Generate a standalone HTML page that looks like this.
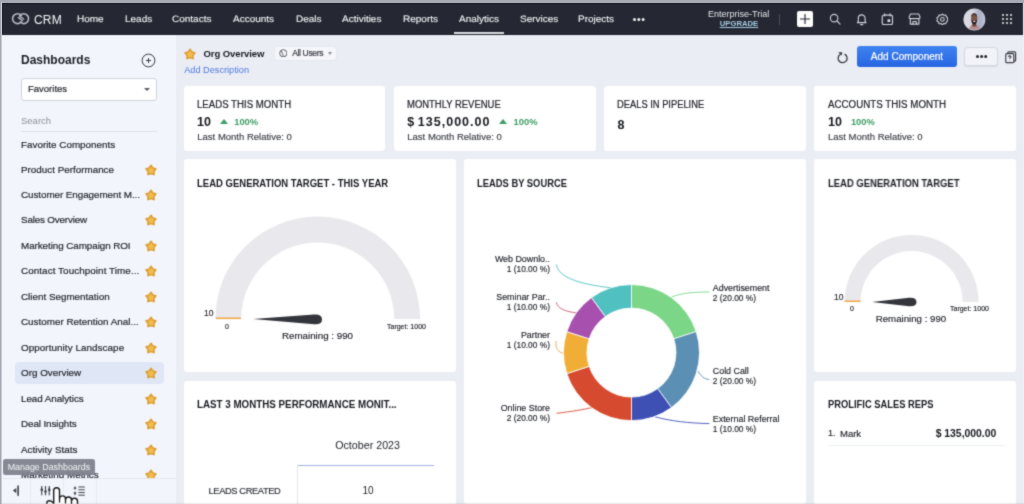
<!DOCTYPE html>
<html>
<head>
<meta charset="utf-8">
<title>CRM Dashboard</title>
<style>
*{box-sizing:border-box;margin:0;padding:0}
html,body{width:1024px;height:504px;overflow:hidden}
body{font-family:"Liberation Sans",sans-serif;background:#a6a9b2;position:relative;color:#1f2129}
.abs{position:absolute}
#app{position:absolute;left:2px;top:3px;width:1022px;height:501px;background:#ebedf5;overflow:hidden}
/* all children of #app positioned in page coords via wrapper offset */
#pg{position:absolute;left:-2px;top:-3px;width:1024px;height:504px;will-change:transform;filter:url(#soft)}
#nav{position:absolute;left:-2px;top:-2px;width:1024.6px;height:37px;background:#252832;border-top:6px solid #1b1e28;border-bottom:1px solid #1d202a}
.nv{position:absolute;top:13.1px;font-size:9.3px;line-height:12px;color:#f1f2f5;white-space:nowrap;transform:scaleX(1.075) rotate(0.03deg);transform-origin:0 50%;-webkit-text-stroke:0.12px #f1f2f5}
#side{position:absolute;left:2px;top:35px;width:174px;height:469px;background:#f3f5fc}
.li{position:absolute;left:21px;font-size:9.85px;-webkit-text-stroke:0.2px #262830;line-height:12px;color:#262830;white-space:nowrap}
.star{position:absolute;left:143.6px;width:14px;height:14px}
.card{position:absolute;background:#fff;border-radius:3px}
.ct{position:absolute;transform-origin:0 0;font-size:10px;line-height:12px;font-weight:bold;color:#191b22;white-space:nowrap}
.st{position:absolute;transform-origin:0 0;font-size:10px;line-height:12px;color:#23252c;white-space:nowrap;-webkit-text-stroke:0.22px #23252c}
.sv{position:absolute;font-size:12.5px;line-height:15px;color:#15171d;white-space:nowrap;font-weight:bold}
.sg{position:absolute;font-size:9.4px;line-height:11px;color:#3f9c66;white-space:nowrap;font-weight:bold}
.sl{position:absolute;font-size:9.5px;line-height:11px;color:#3b3d45;white-space:nowrap;-webkit-text-stroke:0.15px #3b3d45}
.lb{position:absolute;font-size:8.5px;line-height:10px;color:#22242b;white-space:nowrap;-webkit-text-stroke:0.15px #22242b}
</style>
</head>
<body>
<div id="app"><div id="pg">

<!-- NAV -->
<div id="nav"></div>
<svg class="abs" style="left:10px;top:10px" width="22" height="18" viewBox="10 10 22 18" fill="none" stroke="#b9bcc5" stroke-width="1.600" stroke-linecap="round">
  <path d="M21.300 22 A5 4.900 0 1 1 21.300 15.400"/>
  <path d="M20.200 15.400 A4.800 4.900 0 1 1 20.200 22"/>
  <path d="M18.300 17.600 L22.600 20.700 M19.500 16.100 L23.600 19" stroke-width="1.300"/>
</svg>
<div class="abs" style="left:34px;top:12.6px;font-size:12px;line-height:14px;color:#f4f5f8;letter-spacing:0.2px">CRM</div>
<div class="nv" style="left:77px">Home</div>
<div class="nv" style="left:125px">Leads</div>
<div class="nv" style="left:172px">Contacts</div>
<div class="nv" style="left:233px">Accounts</div>
<div class="nv" style="left:296px">Deals</div>
<div class="nv" style="left:342px">Activities</div>
<div class="nv" style="left:403px">Reports</div>
<div class="nv" style="left:459px">Analytics</div>
<div class="nv" style="left:520px">Services</div>
<div class="nv" style="left:578px">Projects</div>
<div class="abs" style="left:453.5px;top:32.3px;width:50.5px;height:1.9px;background:#dcdee3"></div>
<div class="abs" style="left:632.8px;top:18.2px;width:2.8px;height:2.8px;border-radius:2px;background:#f1f2f5;box-shadow:4.3px 0 0 #f1f2f5,8.6px 0 0 #f1f2f5"></div>
<div class="abs" style="left:698.7px;top:8.8px;width:80px;text-align:center;font-size:9px;line-height:10px;color:#e4e5ea">Enterprise-Trial</div>
<div class="abs" style="left:699px;top:18.7px;width:80px;text-align:center;font-size:8px;line-height:10px;color:#a4cce2;font-weight:bold;text-decoration:underline;text-decoration-thickness:0.8px;text-underline-offset:1.2px;transform:scaleX(0.96)">UPGRADE</div>
<div class="abs" style="left:779px;top:14px;width:1px;height:11px;background:#4a4d58"></div>
<!-- plus -->
<div class="abs" style="left:797px;top:11px;width:16px;height:16px;background:#fff;border-radius:2px"></div>
<svg class="abs" style="left:797px;top:11px" width="16" height="16" viewBox="0 0 16 16" stroke="#23262f" stroke-width="1.15" fill="none"><path d="M3 8 H13 M8 3 V13"/></svg>
<!-- search -->
<svg class="abs" style="left:829px;top:13px" width="12.4" height="12.4" viewBox="0 0 13 13" fill="none" stroke="#cfd1d8" stroke-width="1.2" stroke-linecap="round"><circle cx="5.4" cy="5.4" r="3.9"/><path d="M8.4 8.4 L11.6 11.6"/></svg>
<!-- bell -->
<svg class="abs" style="left:856.2px;top:12.8px" width="11.4" height="13.3" viewBox="0 0 12 14" fill="none" stroke="#cfd1d8" stroke-width="1.2" stroke-linecap="round" stroke-linejoin="round"><path d="M2.4 9.2 V5.6 A3.6 3.6 0 0 1 9.6 5.6 V9.2 L10.6 10.2 H1.4 Z"/><path d="M4.8 12.2 H7.2"/></svg>
<!-- calendar -->
<svg class="abs" style="left:881.3px;top:12.7px" width="12.8" height="12.8" viewBox="0 0 13 13" fill="none" stroke="#cfd1d8" stroke-width="1.2" stroke-linejoin="round"><rect x="1.3" y="2.2" width="10.4" height="9.6" rx="1.6"/><path d="M3.8 0.8 V3 M9.2 0.8 V3" stroke-linecap="round"/><rect x="6.6" y="6.4" width="2.8" height="2.8" fill="#d9dbe1" stroke="none"/></svg>
<!-- store -->
<svg class="abs" style="left:908.2px;top:12.8px" width="13.2" height="12.2" viewBox="0 0 14 13" fill="none" stroke="#cfd1d8" stroke-width="1.2" stroke-linejoin="round" stroke-linecap="round"><path d="M2.6 1 H11.4 L12.8 4.4 Q12.8 6 11 6 H3 Q1.2 6 1.2 4.4 Z"/><path d="M2.4 6.2 V11.8 H11.6 V6.2"/><path d="M5.2 11.6 V9 H8.8 V11.6"/></svg>
<!-- gear -->
<svg class="abs" style="left:935.6px;top:12.6px" width="12.8" height="12.8" viewBox="0 0 14 14" fill="none" stroke="#cfd1d8" stroke-width="1.2" stroke-linejoin="round"><path d="M7 1.2 L8.6 2.5 L10.6 2.2 L11.3 4.1 L13 5.2 L12.3 7 L13 8.8 L11.3 9.9 L10.6 11.8 L8.6 11.5 L7 12.8 L5.4 11.5 L3.4 11.8 L2.7 9.9 L1 8.8 L1.7 7 L1 5.2 L2.7 4.1 L3.4 2.2 L5.4 2.5 Z"/><circle cx="7" cy="7" r="2"/></svg>
<!-- avatar -->
<svg class="abs" style="left:963px;top:7.500px" width="23" height="23" viewBox="963 7.500 23 23">
  <defs><clipPath id="avc"><circle cx="974.400" cy="19" r="10.600"/></clipPath>
  <linearGradient id="avg" x1="0" x2="1" y1="0" y2="0"><stop offset="0" stop-color="#dcdde4"/><stop offset="0.450" stop-color="#d3d6e0"/><stop offset="0.700" stop-color="#a9b0c6"/><stop offset="1" stop-color="#c3c7d6"/></linearGradient></defs>
  <circle cx="974.400" cy="19" r="10.900" fill="#d9dbe4"/>
  <g clip-path="url(#avc)">
    <rect x="963" y="7" width="23" height="24" fill="url(#avg)"/>
    <path d="M968.500 31 Q969 25.500 972.500 24.600 L976.300 24.600 Q980 25.500 980.500 31 Z" fill="#b58e93"/>
    <path d="M972.300 22 L976.200 22 L976.400 26 L972.200 26 Z" fill="#6b4739"/>
    <ellipse cx="974.200" cy="17.800" rx="3.100" ry="4.600" fill="#7b5546"/>
    <path d="M971.200 18.800 Q971.300 23.800 974.200 24 Q977.100 23.800 977.200 18.800 Q976.300 20.700 974.200 20.700 Q972.100 20.700 971.200 18.800 Z" fill="#2c201c"/>
    <rect x="973.100" y="20.600" width="2.300" height="0.900" rx="0.400" fill="#e9e4e0"/>
    <path d="M971.200 16.500 Q971.300 12.800 974.200 12.800 Q977.100 12.800 977.200 16.500 Q976 14.300 974.200 14.300 Q972.400 14.300 971.200 16.500 Z" fill="#3a2a25"/>
  </g>
</svg>
<!-- grid -->
<div class="abs" style="left:1002px;top:14px;width:2.4px;height:2.4px;border-radius:1px;background:#f0f1f4;box-shadow:4px 0 0 #f0f1f4,8px 0 0 #f0f1f4,0 4px 0 #f0f1f4,4px 4px 0 #f0f1f4,8px 4px 0 #f0f1f4,0 8px 0 #f0f1f4,4px 8px 0 #f0f1f4,8px 8px 0 #f0f1f4"></div>

<!-- SIDEBAR -->
<div id="side"></div>
<div class="abs" style="left:21px;top:53px;font-size:12px;line-height:14px;font-weight:bold;color:#1a1c24">Dashboards</div>
<svg class="abs" style="left:141px;top:53px" width="15" height="15" viewBox="0 0 15 15" fill="none" stroke="#3b3d46" stroke-width="1"><circle cx="7.5" cy="7.5" r="6.4"/><path d="M5 7.500 H10 M7.500 5 V10"/></svg>
<div class="abs" style="left:21px;top:77.6px;width:136.2px;height:23px;background:#fff;border:1px solid #d0d3dc;border-radius:3px"></div>
<div class="abs" style="left:28px;top:83.4px;font-size:9.5px;line-height:11px;color:#24262e;-webkit-text-stroke:0.2px #24262e">Favorites</div>
<div class="abs" style="left:144px;top:88px;width:0;height:0;border-left:3px solid transparent;border-right:3px solid transparent;border-top:3.5px solid #555862"></div>
<div class="abs" style="left:21px;top:115px;font-size:9.5px;line-height:11px;color:#8d909b">Search</div>
<div class="abs" style="left:21px;top:130.5px;width:136px;height:1px;background:#dfe1ea"></div>

<div class="abs" style="left:15px;top:362.1px;width:149px;height:22.2px;background:#dfe6f5;border-radius:4px"></div>
<div class="li" style="top:139.2px">Favorite Components</div>
<div class="li" style="top:163.5px">Product Performance</div>
<div class="li" style="top:189.0px;letter-spacing:-0.06px">Customer Engagement M...</div>
<div class="li" style="top:214.4px;letter-spacing:-0.18px">Sales Overview</div>
<div class="li" style="top:239.9px;letter-spacing:-0.07px">Marketing Campaign ROI</div>
<div class="li" style="top:265.3px;letter-spacing:0.076px">Contact Touchpoint Time...</div>
<div class="li" style="top:290.8px">Client Segmentation</div>
<div class="li" style="top:316.3px">Customer Retention Anal...</div>
<div class="li" style="top:341.7px;letter-spacing:0.067px">Opportunity Landscape</div>
<div class="li" style="top:367.2px">Org Overview</div>
<div class="li" style="top:392.6px;letter-spacing:-0.06px">Lead Analytics</div>
<div class="li" style="top:418.1px;letter-spacing:-0.1px">Deal Insights</div>
<div class="li" style="top:443.6px">Activity Stats</div>
<div class="li" style="top:469.0px">Marketing Metrics</div>
<svg width="0" height="0" style="position:absolute"><defs>
<filter id="soft" x="0" y="0" width="100%" height="100%" color-interpolation-filters="sRGB"><feConvolveMatrix order="3" kernelMatrix="0.03 0.1 0.03 0.1 0.48 0.1 0.03 0.1 0.03" divisor="1" edgeMode="duplicate" preserveAlpha="false"/></filter>
<symbol id="star" viewBox="0 0 14 14"><path d="M7.00 2.40 L8.70 5.05 L11.76 5.85 L9.76 8.30 L9.94 11.45 L7.00 10.30 L4.06 11.45 L4.24 8.30 L2.24 5.85 L5.30 5.05 Z" fill="#ecab3c" stroke="#dd9f37" stroke-width="1.900" stroke-linejoin="round"/><path d="M7.00 4.90 L8.00 6.12 L9.47 6.70 L8.62 8.03 L8.53 9.60 L7.00 9.20 L5.47 9.60 L5.38 8.03 L4.53 6.70 L6.00 6.12 Z" fill="#f2bc4c" stroke="#f2bc4c" stroke-width="1.200" stroke-linejoin="round"/></symbol>
</defs></svg>
<svg class="star" style="top:162.5px"><use href="#star"/></svg>
<svg class="star" style="top:188.0px"><use href="#star"/></svg>
<svg class="star" style="top:213.4px"><use href="#star"/></svg>
<svg class="star" style="top:238.9px"><use href="#star"/></svg>
<svg class="star" style="top:264.3px"><use href="#star"/></svg>
<svg class="star" style="top:289.8px"><use href="#star"/></svg>
<svg class="star" style="top:315.3px"><use href="#star"/></svg>
<svg class="star" style="top:340.7px"><use href="#star"/></svg>
<svg class="star" style="top:366.2px"><use href="#star"/></svg>
<svg class="star" style="top:391.6px"><use href="#star"/></svg>
<svg class="star" style="top:417.1px"><use href="#star"/></svg>
<svg class="star" style="top:442.6px"><use href="#star"/></svg>
<svg class="star" style="top:468.0px"><use href="#star"/></svg>

<!-- sidebar footer -->
<div class="abs" style="left:2px;top:478.3px;width:174px;height:26px;background:#f3f5fc;border-top:1px solid #e4e6ef"></div>
<div class="abs" style="left:30px;top:479px;width:1px;height:25px;background:#e9ebf3"></div>
<div class="abs" style="left:62.5px;top:479px;width:1px;height:25px;background:#e9ebf3"></div>
<div class="abs" style="left:96px;top:479px;width:1px;height:25px;background:#e9ebf3"></div>
<svg class="abs" style="left:0;top:480px" width="110" height="24" viewBox="0 480 110 24">
  <g fill="#3f414a" stroke="none">
    <path d="M12.9 490.600 L16.300 488 L16.300 493.200 Z"/>
    <rect x="17.300" y="485.500" width="1.600" height="10.300"/>
    <rect x="41.200" y="486" width="1.100" height="9.300"/><rect x="44.950" y="486" width="1.100" height="9.300"/><rect x="48.700" y="486" width="1.100" height="9.300"/>
    <path d="M40.300 489.800 L41.750 487.300 L43.200 489.800 Z"/><rect x="40.600" y="489.600" width="2.300" height="1.400"/>
    <path d="M44.050 491.600 L45.500 494.100 L46.950 491.600 Z"/><rect x="44.350" y="490.400" width="2.300" height="1.400"/>
    <path d="M47.800 489.800 L49.250 487.300 L50.700 489.800 Z"/><rect x="48.100" y="489.600" width="2.300" height="1.400"/>
    <path d="M73.400 488.800 L75 486 L76.600 488.800 Z"/><rect x="74.600" y="488.300" width="0.800" height="1.500"/>
    <path d="M73.400 492.600 L75 495.400 L76.600 492.600 Z"/><rect x="74.600" y="491.500" width="0.800" height="1.500"/>
    <rect x="78.400" y="486.500" width="6.400" height="1"/><rect x="78.400" y="489.300" width="6.400" height="1"/><rect x="78.400" y="492.100" width="6.400" height="1"/><rect x="78.400" y="494.700" width="6.400" height="1"/>
  </g>
  <path d="M47 506 L47 501.500 C49.500 500 51.800 501 53.700 503.300 V490.600 A2.900 2.900 0 0 1 59.500 490.600 V498.900 A3 3 0 0 1 65.500 498.900 V500 A3 3 0 0 1 71.500 500 V501.200 A3 3 0 0 1 77.500 501.200 V506 Z" fill="#fff" stroke="#16171a" stroke-width="1.400" stroke-linejoin="round"/>
  <path d="M59.500 498.900 V502.500 M65.500 500 V503.500 M71.500 501.200 V504" fill="none" stroke="#16171a" stroke-width="1.300"/>
</svg>
<!-- tooltip -->
<div class="abs" style="left:2.6px;top:458.8px;width:92.4px;height:16.4px;background:rgba(128,131,141,0.95);border-radius:2.5px"></div>
<div class="abs" style="left:7.7px;top:462.3px;font-size:8.9px;line-height:10px;color:#f3f4f7;white-space:nowrap">Manage Dashboards</div>

<!-- MAIN HEADER -->
<svg class="abs" style="left:183.2px;top:46.7px;width:14px;height:14px"><use href="#star"/></svg>
<div class="abs" style="left:203.5px;top:47.7px;font-size:9.5px;line-height:11px;font-weight:bold;letter-spacing:-0.08px;color:#16181f;white-space:nowrap">Org Overview</div>
<div class="abs" style="left:275px;top:47px;width:61px;height:12.5px;background:#f5f6fa;border-radius:3px;box-shadow:0 0 0 0.6px #e2e4ec"></div>
<svg class="abs" style="left:278.8px;top:48.9px" width="8.6" height="8.6" viewBox="0 0 9 9" fill="none" stroke="#4a4d57" stroke-width="0.9"><circle cx="4.5" cy="4.5" r="3.8"/><path d="M2 2.2 Q4 3 3.4 4.6 Q4.6 5.4 4.2 8"/></svg>
<div class="abs" style="left:292.2px;top:48.2px;font-size:8.5px;line-height:10px;color:#3a3c45;letter-spacing:-0.35px;-webkit-text-stroke:0.2px #3a3c45;white-space:nowrap">All Users</div>
<div class="abs" style="left:327.5px;top:52px;width:0;height:0;border-left:2.5px solid transparent;border-right:2.5px solid transparent;border-top:3px solid #8a8d97"></div>
<div class="abs" style="left:184.2px;top:64.8px;font-size:9.2px;line-height:10px;color:#4f78dd;white-space:nowrap">Add Description</div>

<svg class="abs" style="left:834px;top:48px" width="18" height="18" viewBox="834 48 18 18" fill="none" stroke="#34363d" stroke-width="1.250" stroke-linecap="round"><path d="M845 54.400 A4.500 4.500 0 1 1 840.100 54.500"/><path d="M838.200 52.300 L842.300 52.300 L841.700 55.600 Z" fill="#34363d" stroke="none"/></svg>
<div class="abs" style="left:856.5px;top:45.5px;width:100.5px;height:21.5px;background:linear-gradient(#3f83f1,#2765e2);border-radius:3px"></div>
<div class="abs" style="left:857px;top:51.1px;width:100px;text-align:center;font-size:10px;line-height:11px;color:#fff;white-space:nowrap;-webkit-text-stroke:0.2px #fff">Add Component</div>
<div class="abs" style="left:964.4px;top:46.6px;width:34px;height:19.8px;background:#f2f3f9;border:1px solid #d4d7e1;border-radius:3.5px;box-shadow:0 1px 1.5px rgba(60,65,90,0.12)"></div>
<div class="abs" style="left:976.3px;top:55.4px;width:2.4px;height:2.4px;border-radius:2px;background:#22242b;box-shadow:4.1px 0 0 #22242b,8.2px 0 0 #22242b"></div>
<svg class="abs" style="left:1005.400px;top:51px" width="11.500" height="12.500" viewBox="0 0 11.500 12.500" fill="none" stroke="#3c3e47" stroke-width="1.200"><path d="M2.800 2.600 V1.800 Q2.800 0.900 3.700 0.900 H9.700 Q10.600 0.900 10.600 1.800 V9.200 Q10.600 10.100 9.700 10.100 H9"/><rect x="0.800" y="2.700" width="8" height="9" rx="1" fill="#f4f5fa"/><path d="M3.400 5.900 Q3.400 4.900 4.700 4.900 Q6 4.900 6 5.900 Q6 6.600 4.800 7.200 V7.900 M4.800 9 V9.600" stroke-width="1.100"/></svg>

<!-- STAT CARDS -->
<div class="card" style="left:184px;top:85.8px;width:201.2px;height:65.6px"></div>
<div class="card" style="left:394px;top:85.8px;width:201.6px;height:65.6px"></div>
<div class="card" style="left:604.4px;top:85.8px;width:201.6px;height:65.6px"></div>
<div class="card" style="left:814px;top:85.8px;width:202.2px;height:65.6px"></div>

<div class="st" style="left:197px;top:99.1px;transform:scaleX(0.9641)">LEADS THIS MONTH</div>
<div class="sv" style="left:197px;top:114.9px">10</div>
<div class="abs" style="left:220.3px;top:119.2px;width:0;height:0;border-left:4.2px solid transparent;border-right:4.2px solid transparent;border-bottom:5px solid #3f9c66"></div>
<div class="sg" style="left:234.2px;top:115.9px">100%</div>
<div class="sl" style="left:197.3px;top:131.3px">Last Month Relative: 0</div>

<div class="st" style="left:407.3px;top:99.1px;transform:scaleX(0.9455)">MONTHLY REVENUE</div>
<div class="sv" style="left:407.3px;top:114.9px;letter-spacing:1.02px;word-spacing:-2px">$ 135,000.00</div>
<div class="abs" style="left:499.2px;top:119.2px;width:0;height:0;border-left:4.2px solid transparent;border-right:4.2px solid transparent;border-bottom:5px solid #3f9c66"></div>
<div class="sg" style="left:513.6px;top:115.9px">100%</div>
<div class="sl" style="left:407.3px;top:131.3px">Last Month Relative: 0</div>

<div class="st" style="left:617.3px;top:99.1px;transform:scaleX(0.9336)">DEALS IN PIPELINE</div>
<div class="sv" style="left:617.5px;top:117.8px">8</div>

<div class="st" style="left:828px;top:99.1px;transform:scaleX(0.9760)">ACCOUNTS THIS MONTH</div>
<div class="sv" style="left:828px;top:114.9px">10</div>
<div class="sg" style="left:850.9px;top:115.9px">100%</div>
<div class="sl" style="left:828px;top:131.3px">Last Month Relative: 0</div>

<!-- ROW 2 CARDS -->
<div class="card" style="left:184px;top:159.2px;width:272.2px;height:212.5px"></div>
<div class="card" style="left:464.3px;top:159.2px;width:341.7px;height:345px"></div>
<div class="card" style="left:814px;top:159.2px;width:202.2px;height:212.5px"></div>
<div class="card" style="left:184px;top:381.2px;width:272.2px;height:124px"></div>
<div class="card" style="left:814px;top:381.2px;width:202.2px;height:124px"></div>

<div class="ct" style="left:197px;top:178.1px;transform:scaleX(0.9508)">LEAD GENERATION TARGET - THIS YEAR</div>
<div class="ct" style="left:477.2px;top:178.1px;transform:scaleX(0.9375)">LEADS BY SOURCE</div>
<div class="ct" style="left:828px;top:178.1px;transform:scaleX(0.9454)">LEAD GENERATION TARGET</div>
<div class="ct" style="left:197px;top:399.1px;transform:scaleX(0.9789)">LAST 3 MONTHS PERFORMANCE MONIT...</div>
<div class="ct" style="left:827.8px;top:398.9px;transform:scaleX(0.9353)">PROLIFIC SALES REPS</div>

<!-- gauge 1 -->
<svg class="abs" style="left:184px;top:159px" width="272" height="213" viewBox="184 159 272 213">
  <path d="M215.300 319 A102.400 102.400 0 0 1 420.100 319 L394.200 319 A76.500 76.500 0 0 0 241.200 319 Z" fill="#e9e9ed"/>
  <rect x="216" y="317.5" width="25" height="1.6" fill="#f0a648"/>
  <path d="M253 319 L314 314.5 Q322 314 322 319.5 Q322 325 314 324.2 Z" fill="#33353b"/>
</svg>
<div class="lb" style="left:204px;top:308px">10</div>
<div class="lb" style="left:225px;top:322px;font-size:7px">0</div>
<div class="lb" style="left:387px;top:322px;font-size:7px">Target: 1000</div>
<div class="lb" style="left:282px;top:330.1px;font-size:9.75px;line-height:11px">Remaining : 990</div>

<!-- gauge 2 -->
<svg class="abs" style="left:814px;top:159px" width="202" height="213" viewBox="814 159 202 213">
  <path d="M844.600 302 A67 67 0 0 1 978.600 302 L962.600 302 A51 51 0 0 0 860.600 302 Z" fill="#e9e9ed"/>
  <rect x="844.600" y="300.500" width="16" height="1.500" fill="#f0a648"/>
  <path d="M872 302 L909 297.700 Q916.500 297.200 916.500 302 Q916.500 306.800 909 306.300 Z" fill="#33353b"/>
</svg>
<div class="lb" style="left:834px;top:292px">10</div>
<div class="lb" style="left:850px;top:304px;font-size:7px">0</div>
<div class="lb" style="left:950px;top:304px;font-size:7px">Target: 1000</div>
<div class="lb" style="left:875.7px;top:313.3px;font-size:9.7px;line-height:11px">Remaining : 990</div>

<!-- donut -->
<svg class="abs" style="left:464px;top:159px" width="342" height="345" viewBox="464 159 342 345" id="donut">
<g fill="none" stroke-width="0.900">
<path d="M556.400 264.400 C558 277 578 284 611 287.800" stroke="#50c0c1"/>
<path d="M556.400 302.300 C557.500 308.500 565 311.500 577 313" stroke="#c25a6e"/>
<path d="M556.100 341 C555 348 558 352.500 564.500 353.600" stroke="#e3a24a"/>
<path d="M556.600 413.300 C572 411.500 584 409.500 593 407.300" stroke="#d64a2f"/>
<path d="M709.300 292 C695 292 680 293 671.500 297.300" stroke="#7bd688"/>
<path d="M709.300 379.500 C705 379.500 701 376.500 698 371" stroke="#5b8fb3"/>
<path d="M709.300 423.600 C690 423.300 670 421 655 416.800" stroke="#3f50b4"/>
</g>
<path d="M631.50 284.60 A68 68 0 0 1 696.17 331.59 L673.82 338.85 A44.5 44.5 0 0 0 631.50 308.10 Z" fill="#7bd688" stroke="#fff" stroke-width="0.8"/>
<path d="M696.17 331.59 A68 68 0 0 1 671.47 407.61 L657.66 388.60 A44.5 44.5 0 0 0 673.82 338.85 Z" fill="#5b8fb3" stroke="#fff" stroke-width="0.8"/>
<path d="M671.47 407.61 A68 68 0 0 1 631.50 420.60 L631.50 397.10 A44.5 44.5 0 0 0 657.66 388.60 Z" fill="#3f50b4" stroke="#fff" stroke-width="0.8"/>
<path d="M631.50 420.60 A68 68 0 0 1 566.83 373.61 L589.18 366.35 A44.5 44.5 0 0 0 631.50 397.10 Z" fill="#d64a2f" stroke="#fff" stroke-width="0.8"/>
<path d="M566.83 373.61 A68 68 0 0 1 566.83 331.59 L589.18 338.85 A44.5 44.5 0 0 0 589.18 366.35 Z" fill="#f1ae36" stroke="#fff" stroke-width="0.8"/>
<path d="M566.83 331.59 A68 68 0 0 1 591.53 297.59 L605.34 316.60 A44.5 44.5 0 0 0 589.18 338.85 Z" fill="#a750ae" stroke="#fff" stroke-width="0.8"/>
<path d="M591.53 297.59 A68 68 0 0 1 631.50 284.60 L631.50 308.10 A44.5 44.5 0 0 0 605.34 316.60 Z" fill="#50c0c1" stroke="#fff" stroke-width="0.8"/>
</svg>

<div class="lb" style="left:450px;top:254.0px;width:100px;text-align:right;font-size:8.9px">Web Downlo..</div>
<div class="lb" style="left:450px;top:263.6px;width:100px;text-align:right;font-size:8.4px">1 (10.00 %)</div>
<div class="lb" style="left:450px;top:292.1px;width:100px;text-align:right;font-size:8.9px">Seminar Par..</div>
<div class="lb" style="left:450px;top:301.9px;width:100px;text-align:right;font-size:8.4px">1 (10.00 %)</div>
<div class="lb" style="left:450px;top:330.3px;width:100px;text-align:right;font-size:8.9px">Partner</div>
<div class="lb" style="left:450px;top:340px;width:100px;text-align:right;font-size:8.4px">1 (10.00 %)</div>
<div class="lb" style="left:450px;top:403.0px;width:100px;text-align:right;font-size:8.9px">Online Store</div>
<div class="lb" style="left:450px;top:412.8px;width:100px;text-align:right;font-size:8.4px">2 (20.00 %)</div>
<div class="lb" style="left:712.8px;top:282.6px;font-size:8.9px">Advertisement</div>
<div class="lb" style="left:712.8px;top:292.7px;font-size:8.4px">2 (20.00 %)</div>
<div class="lb" style="left:712.8px;top:366px;font-size:8.9px">Cold Call</div>
<div class="lb" style="left:712.8px;top:376px;font-size:8.4px">2 (20.00 %)</div>
<div class="lb" style="left:712.8px;top:413.6px;font-size:8.9px">External Referral</div>
<div class="lb" style="left:712.8px;top:423.7px;font-size:8.4px">1 (10.00 %)</div>

<!-- table -->
<div class="abs" style="left:302.600px;top:439.300px;width:130px;text-align:center;font-size:10.700px;line-height:12px;color:#22242b">October 2023</div>
<div class="abs" style="left:297px;top:464.6px;width:136.5px;height:1.3px;background:#9fb2df"></div>
<div class="abs" style="left:297px;top:465px;width:1px;height:39px;background:#e4e6ee"></div>
<div class="abs" style="left:208.600px;top:485.500px;font-size:9.3px;line-height:11px;color:#2b2d35;white-space:nowrap;letter-spacing:-0.39px;-webkit-text-stroke:0.15px #2b2d35">LEADS CREATED</div>
<div class="abs" style="left:303px;top:485px;width:130px;text-align:center;font-size:10px;line-height:12px;color:#22242b">10</div>

<!-- sales reps -->
<div class="abs" style="left:828px;top:428px;font-size:9px;line-height:11px;color:#22242b;white-space:nowrap;-webkit-text-stroke:0.15px #22242b">1.</div>
<div class="abs" style="left:840px;top:428px;font-size:9.5px;line-height:11px;color:#22242b;white-space:nowrap;-webkit-text-stroke:0.15px #22242b">Mark</div>
<div class="abs" style="left:899.300px;top:428.400px;width:97px;text-align:right;font-size:10.400px;line-height:12px;font-weight:bold;color:#16181f;white-space:nowrap">$ 135,000.00</div>
<div class="abs" style="left:828px;top:445px;width:177px;height:1px;background:#eff0f4"></div>

</div></div>
<div class="abs" style="left:0;top:0;width:1.3px;height:504px;background:#a4a7b0"></div>
<div class="abs" style="left:1.3px;top:2px;width:1px;height:502px;background:#c9ccd5"></div>
<div class="abs" style="left:1022.6px;top:2.5px;width:1.4px;height:33px;background:#cfd1d9"></div>
<div class="abs" style="left:1022.6px;top:35px;width:1.4px;height:469px;background:#eef0f6"></div>
<div class="abs" style="left:0;top:501.5px;width:1024px;height:2.5px;background:linear-gradient(rgba(120,124,130,0),rgba(120,124,130,0.16))"></div>
</body>
</html>
